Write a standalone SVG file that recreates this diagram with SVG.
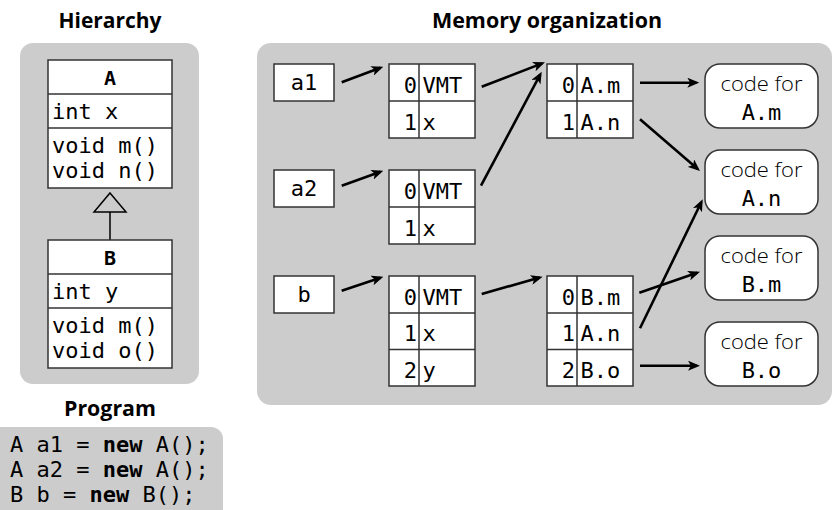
<svg xmlns="http://www.w3.org/2000/svg" width="834" height="510" viewBox="0 0 834 510">
<style>
.panel{fill:#cccccc;stroke:none}
.box{fill:#ffffff;stroke:#333333;stroke-width:1.5}
.sep{stroke:#333333;stroke-width:1.5;fill:none}
.title{font-family:"Open Sans","Noto Sans",sans-serif;font-weight:700;font-size:20.5px;fill:#000;text-anchor:middle}
.mono{font-family:"DejaVu Sans Mono","Liberation Mono",monospace;font-size:22px;fill:#000}
.hdr{font-family:"DejaVu Sans Mono","Liberation Mono",monospace;font-size:20px;font-weight:700;fill:#000;text-anchor:middle}
.mid{text-anchor:middle}
.end{text-anchor:end}
.sans{font-family:"Open Sans","Noto Sans",sans-serif;font-weight:300;font-size:19.5px;fill:#000;text-anchor:middle}
.arrow{stroke:#000;stroke-width:2.6;fill:none;marker-end:url(#ah)}
.gen{stroke:#000;stroke-width:1.5;fill:none}
</style>
<defs>
<marker id="ah" markerUnits="userSpaceOnUse" markerWidth="12" markerHeight="10" refX="9" refY="5" orient="auto">
<path d="M0,0 L12,5 L0,10 L3,5 Z" fill="#000"/>
</marker>
</defs>

<!-- titles -->
<text class="title" x="110" y="27.5" textLength="103" lengthAdjust="spacingAndGlyphs">Hierarchy</text>
<text class="title" x="547" y="28" textLength="230" lengthAdjust="spacingAndGlyphs">Memory organization</text>
<text class="title" x="110" y="415.5" textLength="92" lengthAdjust="spacingAndGlyphs">Program</text>

<!-- panels -->
<rect class="panel" x="20" y="43" width="179" height="341" rx="13"/>
<rect class="panel" x="257" y="43" width="575" height="362" rx="14"/>

<!-- Hierarchy -->
<g id="classA">
<rect class="box" x="48" y="60" width="124" height="128"/>
<line class="sep" x1="48" y1="94" x2="172" y2="94"/>
<line class="sep" x1="48" y1="128" x2="172" y2="128"/>
<text class="hdr" x="110" y="85">A</text>
<text class="mono" x="52" y="119">int x</text>
<text class="mono" x="52" y="153">void m()</text>
<text class="mono" x="52" y="178">void n()</text>
</g>
<g id="inherit">
<path class="gen" d="M110,193 L126,212 L94,212 Z"/>
<line class="gen" x1="110" y1="212" x2="110" y2="240"/>
</g>
<g id="classB">
<rect class="box" x="48" y="240" width="124" height="128"/>
<line class="sep" x1="48" y1="274" x2="172" y2="274"/>
<line class="sep" x1="48" y1="308" x2="172" y2="308"/>
<text class="hdr" x="110" y="265">B</text>
<text class="mono" x="52" y="299">int y</text>
<text class="mono" x="52" y="333">void m()</text>
<text class="mono" x="52" y="358">void o()</text>
</g>

<!-- Program -->
<g id="program">
<rect class="panel" x="-15" y="427" width="238" height="110" rx="12"/>
<text class="mono" x="10" y="452">A a1 = <tspan font-weight="700">new</tspan> A();</text>
<text class="mono" x="10" y="477">A a2 = <tspan font-weight="700">new</tspan> A();</text>
<text class="mono" x="10" y="502">B b = <tspan font-weight="700">new</tspan> B();</text>
</g>

<!-- variables -->
<g id="var-a1">
<rect class="box" x="274" y="64" width="60" height="37"/>
<text class="mono mid" x="304" y="90">a1</text>
</g>
<g id="var-a2">
<rect class="box" x="274" y="170" width="60" height="37"/>
<text class="mono mid" x="304" y="196">a2</text>
</g>
<g id="var-b">
<rect class="box" x="274" y="276" width="60" height="37"/>
<text class="mono mid" x="304" y="302">b</text>
</g>

<!-- objects -->
<g id="obj-a1">
<rect class="box" x="389" y="64" width="86" height="74"/>
<line class="sep" x1="389" y1="101" x2="475" y2="101"/>
<line class="sep" x1="419" y1="64" x2="419" y2="138"/>
<text class="mono end" x="417" y="92.5">0</text><text class="mono" x="422.5" y="92.5">VMT</text>
<text class="mono end" x="417" y="129.5">1</text><text class="mono" x="422.5" y="129.5">x</text>
</g>
<g id="obj-a2">
<rect class="box" x="389" y="170" width="86" height="74"/>
<line class="sep" x1="389" y1="207" x2="475" y2="207"/>
<line class="sep" x1="419" y1="170" x2="419" y2="244"/>
<text class="mono end" x="417" y="198.5">0</text><text class="mono" x="422.5" y="198.5">VMT</text>
<text class="mono end" x="417" y="235.5">1</text><text class="mono" x="422.5" y="235.5">x</text>
</g>
<g id="obj-b">
<rect class="box" x="389" y="276" width="86" height="110"/>
<line class="sep" x1="389" y1="313" x2="475" y2="313"/>
<line class="sep" x1="389" y1="349.5" x2="475" y2="349.5"/>
<line class="sep" x1="419" y1="276" x2="419" y2="386"/>
<text class="mono end" x="417" y="304.5">0</text><text class="mono" x="422.5" y="304.5">VMT</text>
<text class="mono end" x="417" y="341">1</text><text class="mono" x="422.5" y="341">x</text>
<text class="mono end" x="417" y="377.5">2</text><text class="mono" x="422.5" y="377.5">y</text>
</g>

<!-- VMTs -->
<g id="vmt-A">
<rect class="box" x="547" y="64" width="86" height="74"/>
<line class="sep" x1="547" y1="101" x2="633" y2="101"/>
<line class="sep" x1="577" y1="64" x2="577" y2="138"/>
<text class="mono end" x="575" y="92.5">0</text><text class="mono" x="580.5" y="92.5">A.m</text>
<text class="mono end" x="575" y="129.5">1</text><text class="mono" x="580.5" y="129.5">A.n</text>
</g>
<g id="vmt-B">
<rect class="box" x="547" y="276" width="86" height="110"/>
<line class="sep" x1="547" y1="313" x2="633" y2="313"/>
<line class="sep" x1="547" y1="349.5" x2="633" y2="349.5"/>
<line class="sep" x1="577" y1="276" x2="577" y2="386"/>
<text class="mono end" x="575" y="304.5">0</text><text class="mono" x="580.5" y="304.5">B.m</text>
<text class="mono end" x="575" y="341">1</text><text class="mono" x="580.5" y="341">A.n</text>
<text class="mono end" x="575" y="377.5">2</text><text class="mono" x="580.5" y="377.5">B.o</text>
</g>

<!-- code boxes -->
<g id="code-Am">
<rect class="box" x="705" y="64" width="113" height="64" rx="15"/>
<text class="sans" x="761.5" y="91" textLength="82" lengthAdjust="spacingAndGlyphs">code for</text>
<text class="mono mid" x="761.5" y="120">A.m</text>
</g>
<g id="code-An">
<rect class="box" x="705" y="150" width="113" height="64" rx="15"/>
<text class="sans" x="761.5" y="177" textLength="82" lengthAdjust="spacingAndGlyphs">code for</text>
<text class="mono mid" x="761.5" y="206">A.n</text>
</g>
<g id="code-Bm">
<rect class="box" x="705" y="236" width="113" height="64" rx="15"/>
<text class="sans" x="761.5" y="263" textLength="82" lengthAdjust="spacingAndGlyphs">code for</text>
<text class="mono mid" x="761.5" y="292">B.m</text>
</g>
<g id="code-Bo">
<rect class="box" x="705" y="322" width="113" height="64" rx="15"/>
<text class="sans" x="761.5" y="349" textLength="82" lengthAdjust="spacingAndGlyphs">code for</text>
<text class="mono mid" x="761.5" y="378">B.o</text>
</g>

<!-- connectors -->
<g id="connectors">
<line class="arrow" x1="341.7" y1="82.3" x2="380.5" y2="67.75"/>
<line class="arrow" x1="341.7" y1="185.7" x2="380.5" y2="171.7"/>
<line class="arrow" x1="341.7" y1="290.7" x2="380.5" y2="277.7"/>
<line class="arrow" x1="481.7" y1="86.7" x2="542.2" y2="63.4"/>
<line class="arrow" x1="481" y1="185.7" x2="540.3" y2="74.3"/>
<line class="arrow" x1="481.7" y1="294" x2="539.8" y2="277.5"/>
<line class="arrow" x1="640" y1="82.7" x2="696.3" y2="82.7"/>
<line class="arrow" x1="640" y1="119.3" x2="697.7" y2="169"/>
<line class="arrow" x1="639.3" y1="292.7" x2="697.2" y2="272.7"/>
<line class="arrow" x1="640" y1="328.3" x2="701.4" y2="202"/>
<line class="arrow" x1="640" y1="365.7" x2="697" y2="365.7"/>
</g>
</svg>
